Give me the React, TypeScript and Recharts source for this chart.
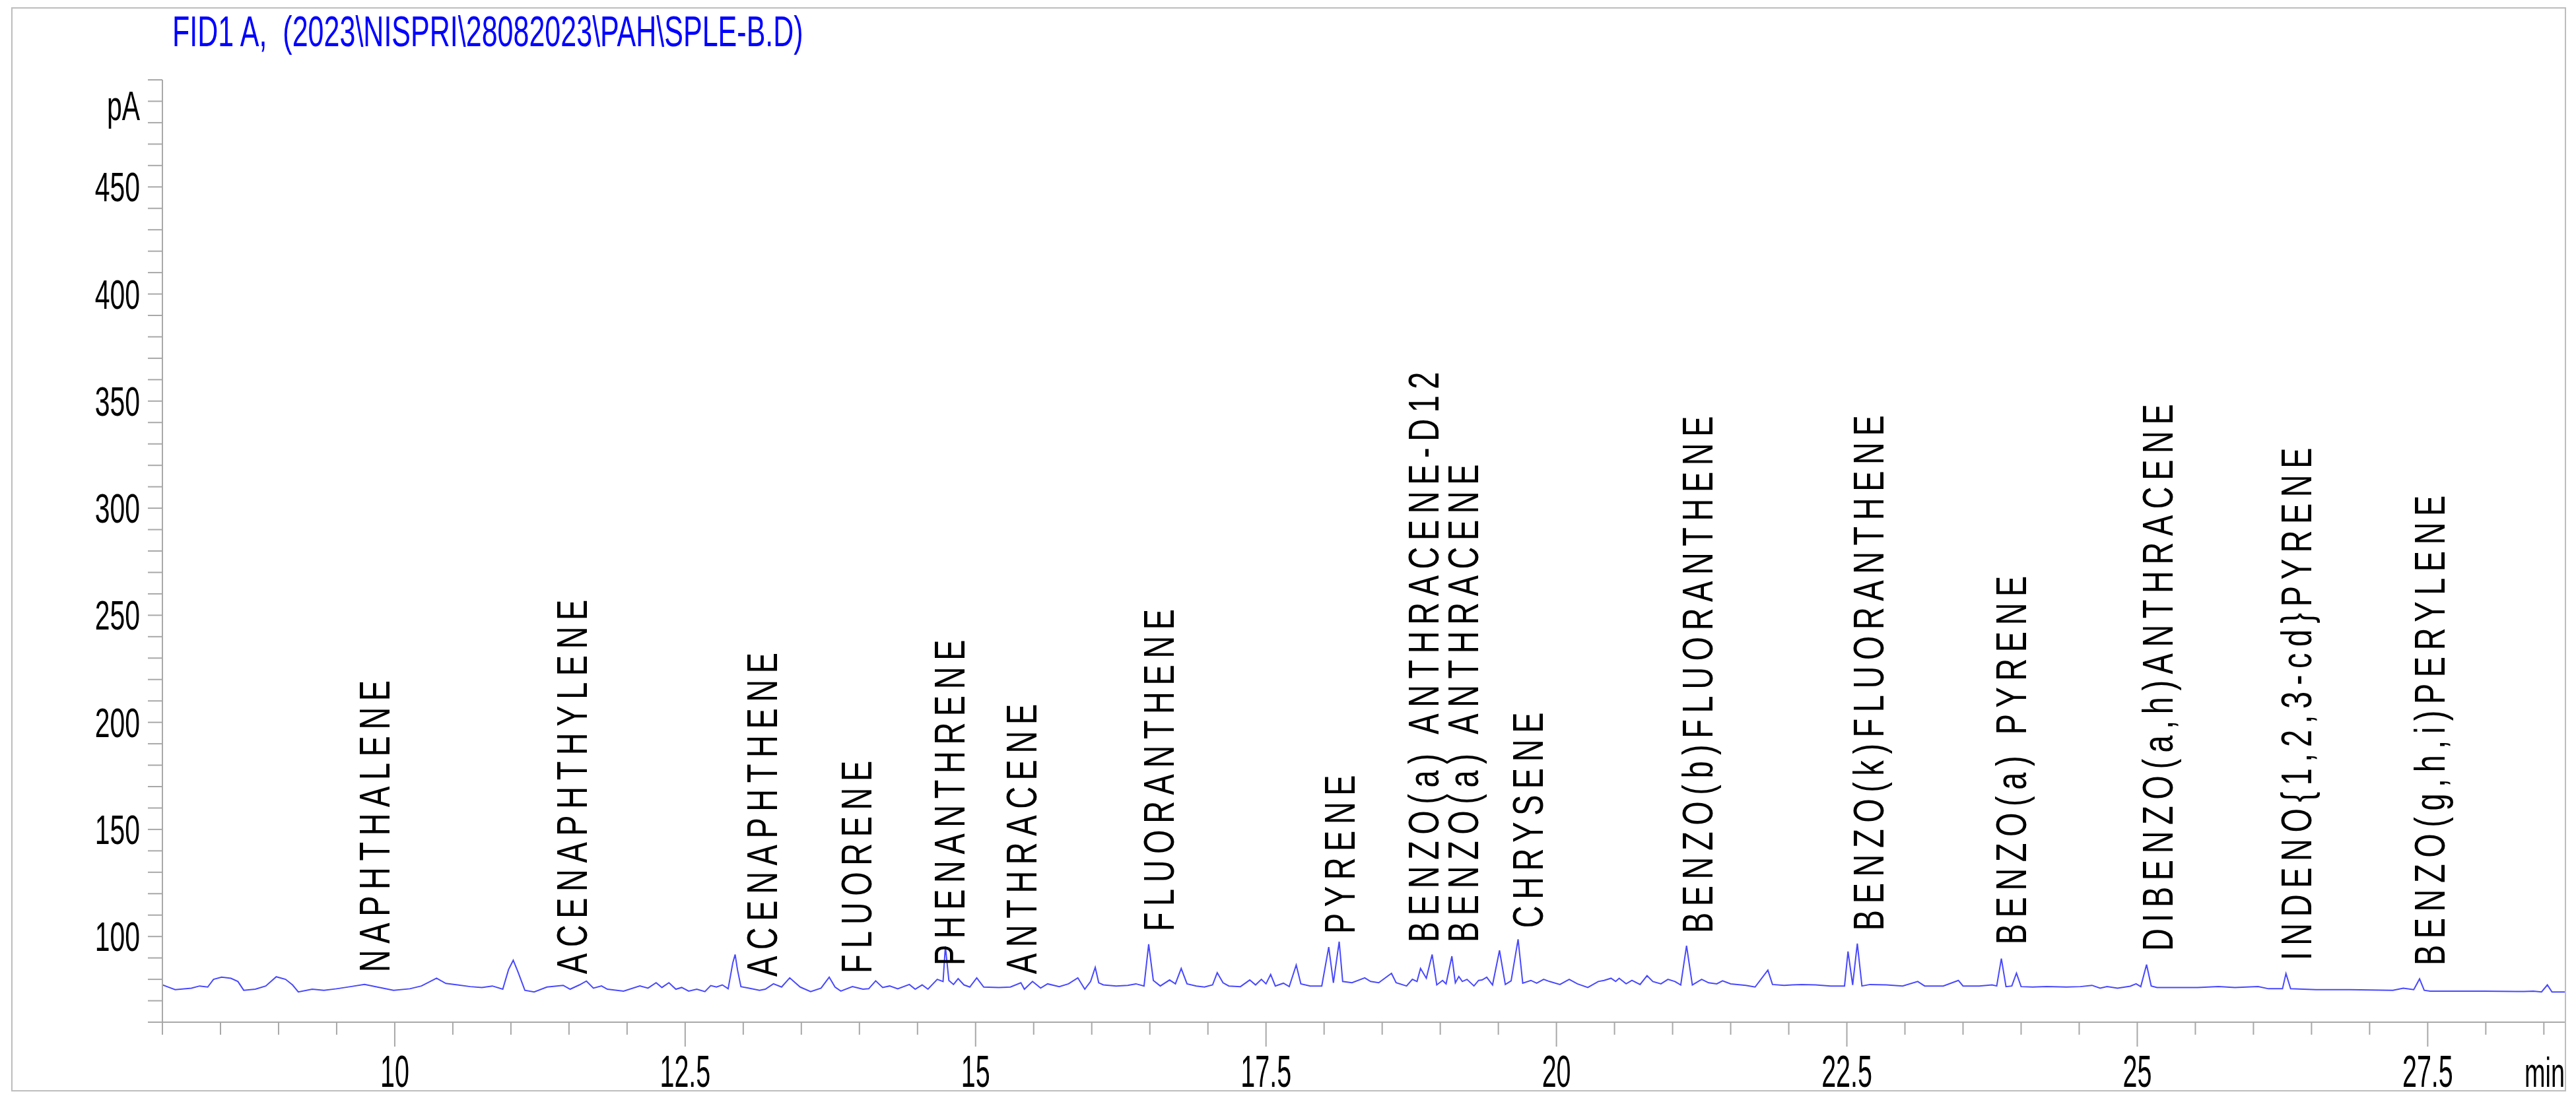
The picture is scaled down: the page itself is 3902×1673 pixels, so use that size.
import { LineChart, Line, XAxis, YAxis, ReferenceDot } from "recharts";

const FONT = "'Liberation Sans', Arial, sans-serif";
const TITLE = "FID1 A,  (2023\\NISPRI\\28082023\\PAH\\SPLE-B.D)";

// trace as [min, pA]
const early: number[][] = [
  [8.0, 77.4], [8.11, 75.2], [8.25, 75.9], [8.32, 76.9], [8.39, 76.4], [8.44, 80.0], [8.51, 81.0],
  [8.59, 80.5], [8.65, 79.0], [8.7, 74.9], [8.8, 75.4], [8.89, 76.9], [8.98, 81.2], [9.06, 80.0],
  [9.12, 77.4], [9.17, 74.1], [9.29, 75.4], [9.39, 74.9], [9.5, 75.6], [9.62, 76.6], [9.74, 77.6],
  [9.85, 76.4], [9.99, 74.9], [10.13, 75.6], [10.23, 76.9], [10.36, 80.5], [10.44, 78.1], [10.54, 77.4],
  [10.65, 76.6], [10.75, 76.2], [10.84, 76.9], [10.93, 75.4], [10.98, 84.6], [11.02, 88.9], [11.06, 83.6],
  [11.12, 74.9], [11.2, 74.1], [11.31, 76.4], [11.45, 77.2],
];

const light: number[][] = [
  [11.51, 75.4], [11.59, 77.4], [11.65, 79.2], [11.71, 75.9], [11.78, 76.9], [11.83, 75.4], [11.97, 74.5],
  [12.11, 76.9], [12.18, 75.9], [12.25, 78.4], [12.3, 76.2], [12.36, 78.4], [12.42, 75.4], [12.47, 76.2],
  [12.53, 74.5], [12.6, 75.4], [12.67, 74.3], [12.72, 77.1], [12.77, 76.4], [12.82, 77.4], [12.87, 75.6],
  [12.91, 87.7], [12.93, 91.6], [12.95, 84.6], [12.98, 76.6], [13.05, 75.9], [13.14, 74.9], [13.19, 75.4],
  [13.26, 77.9], [13.33, 76.4], [13.4, 80.7], [13.49, 76.4], [13.58, 74.3], [13.67, 75.9], [13.74, 81.0],
  [13.79, 76.4], [13.84, 74.5], [13.94, 76.6], [14.03, 75.4], [14.08, 75.6], [14.14, 79.3], [14.2, 76.2],
  [14.26, 76.9], [14.33, 75.6], [14.43, 77.6], [14.48, 75.4], [14.54, 77.4], [14.59, 75.4], [14.67, 80.0],
  [14.72, 79.0], [14.74, 95.4], [14.77, 79.5], [14.81, 77.6], [14.85, 80.3], [14.9, 77.4], [14.95, 76.4],
];

const middle: number[][] = [
  [15.01, 80.7], [15.07, 76.4], [15.2, 76.2], [15.3, 76.4], [15.39, 78.4], [15.42, 75.4], [15.49, 79.0],
  [15.56, 75.9], [15.62, 77.9], [15.72, 76.6], [15.8, 77.9], [15.88, 80.7], [15.94, 75.4], [15.99, 79.0],
  [16.03, 85.6], [16.06, 78.4], [16.1, 77.4], [16.21, 76.9], [16.31, 77.2], [16.38, 77.9], [16.45, 76.9],
  [16.49, 96.4], [16.53, 79.5], [16.59, 76.9], [16.67, 79.7], [16.72, 77.9], [16.77, 85.1], [16.82, 77.9],
  [16.9, 76.9], [16.97, 76.4], [17.04, 77.4], [17.08, 83.1], [17.13, 78.4], [17.18, 76.9], [17.28, 76.6],
  [17.36, 79.7], [17.41, 77.4], [17.46, 80.0], [17.5, 77.9], [17.54, 82.3], [17.58, 76.9], [17.65, 78.2],
  [17.7, 76.6], [17.76, 86.7], [17.8, 77.9], [17.88, 76.9], [17.98, 76.9], [18.04, 95.1], [18.08, 78.4],
  [18.13, 97.6], [18.16, 79.0], [18.24, 78.4], [18.35, 80.7], [18.4, 79.0], [18.47, 78.4], [18.58, 82.8],
  [18.62, 78.4], [18.71, 76.9], [18.76, 80.0], [18.8, 79.0], [18.83, 85.1],
];

const heavy: number[][] = [
  [18.88, 80.5], [18.93, 91.6], [18.97, 77.4], [19.02, 79.5], [19.05, 77.9], [19.1, 90.8], [19.13, 78.4],
  [19.16, 81.3], [19.19, 79.0], [19.23, 80.0], [19.29, 76.9], [19.33, 79.5], [19.36, 79.7], [19.4, 81.0],
  [19.45, 77.4], [19.51, 93.5], [19.56, 77.6], [19.61, 79.3], [19.67, 98.7], [19.71, 78.2], [19.78, 79.5],
  [19.83, 78.2], [19.89, 80.0], [19.94, 79.0], [20.03, 77.6], [20.11, 80.0], [20.18, 77.9], [20.27, 76.2],
  [20.36, 79.0], [20.41, 79.5], [20.47, 80.5], [20.51, 79.0], [20.54, 80.5], [20.6, 77.9], [20.65, 79.5],
  [20.72, 77.6], [20.78, 81.7], [20.83, 79.0], [20.9, 77.9], [20.96, 80.0], [21.02, 79.0], [21.07, 77.4],
  [21.12, 95.7], [21.17, 77.4], [21.25, 80.0], [21.31, 78.4], [21.38, 77.9], [21.43, 79.3], [21.5, 77.9],
  [21.63, 77.2], [21.71, 76.4], [21.82, 84.3], [21.86, 77.6], [21.96, 77.2], [22.03, 77.4], [22.11, 77.6],
  [22.23, 77.4], [22.36, 76.9], [22.48, 76.9], [22.51, 93.0], [22.55, 77.4], [22.59, 96.7], [22.63, 76.9],
  [22.7, 77.6], [22.84, 77.4], [22.98, 76.9], [23.11, 79.0], [23.17, 76.9], [23.33, 76.9], [23.46, 79.5],
  [23.5, 76.9], [23.64, 76.9], [23.75, 77.4], [23.79, 76.9], [23.83, 89.7], [23.87, 76.6], [23.92, 76.9],
  [23.96, 82.9], [24.0, 76.6], [24.1, 76.4],
];

const late: number[][] = [
  [24.22, 76.6], [24.39, 76.4], [24.51, 76.6], [24.61, 77.2], [24.68, 75.9], [24.74, 76.6], [24.83, 75.9],
  [24.94, 76.8], [24.99, 77.9], [25.03, 76.6], [25.08, 86.9], [25.12, 76.9], [25.17, 76.2], [25.38, 76.2],
  [25.52, 76.2], [25.7, 76.6], [25.84, 76.2], [26.04, 76.6], [26.13, 75.6], [26.25, 75.6], [26.28, 82.7],
  [26.32, 75.6], [26.54, 75.2], [26.83, 75.2], [27.2, 74.9], [27.29, 75.9], [27.38, 75.2], [27.43, 80.2],
  [27.47, 74.9], [27.52, 74.5], [27.99, 74.5], [28.33, 74.3], [28.41, 74.5], [28.48, 74.1], [28.53, 77.4],
  [28.57, 74.1], [28.68, 74.1],
];

// peak annotations
const peakNames = [
  "NAPHTHALENE", "ACENAPHTHYLENE", "ACENAPHTHENE", "FLUORENE", "PHENANTHRENE", "ANTHRACENE",
  "FLUORANTHENE", "PYRENE", "BENZO(a) ANTHRACENE-D12", "BENZO(a) ANTHRACENE", "CHRYSENE",
  "BENZO(b)FLUORANTHENE", "BENZO(k)FLUORANTHENE", "BENZO(a) PYRENE", "DIBENZO(a,h)ANTHRACENE",
  "INDENO{1,2,3-cd}PYRENE", "BENZO(g,h,i)PERYLENE",
];
const peakTimes = [
  9.82, 11.52, 13.155, 13.97, 14.77, 15.39, 16.57, 18.127, 18.85, 19.19, 19.75, 21.21, 22.68, 23.91,
  25.17, 26.365, 27.51,
];
const labelBase = [
  84.6, 83.7, 82.5, 84.0, 87.7, 83.7, 103.7, 102.5, 98.5, 98.5, 105.2, 102.8, 104.0, 97.5, 94.5, 90.1, 87.7,
];

const xLabels = [10, 12.5, 15, 17.5, 20, 22.5, 25, 27.5];
const yLabels = [100, 150, 200, 250, 300, 350, 400, 450];
const xTicks = Array.from({ length: 42 }, (_, i) => 8 + i * 0.5).filter((v) => v <= 28.5);
const yTicks = Array.from({ length: 45 }, (_, i) => 60 + i * 10);

const trace = [...early, ...light, ...middle, ...heavy, ...late].map(([t, v]) => ({ t, v }));

const GRAY = "#a8a8a8";

function XTick(props: any) {
  const { x, y, payload } = props;
  const major = xLabels.includes(payload.value);
  return (
    <g>
      <line x1={x} x2={x} y1={y} y2={y + (major ? 37 : 19)} stroke={GRAY} strokeWidth={2} />
      {major && (
        <text
          transform={`translate(${x},${y + 98}) scale(0.58,1)`}
          textAnchor="middle"
          fontFamily={FONT}
          fontSize={68}
          fill="#000"
        >
          {payload.value}
        </text>
      )}
    </g>
  );
}

function YTick(props: any) {
  const { x, y, payload } = props;
  const labelled = yLabels.includes(payload.value);
  return (
    <g>
      <line x1={x - 22} x2={x} y1={y} y2={y} stroke={GRAY} strokeWidth={2} />
      {labelled && (
        <text
          transform={`translate(${x - 34},${y + 22}) scale(0.65,1)`}
          textAnchor="end"
          fontFamily={FONT}
          fontSize={63}
          fill="#000"
        >
          {payload.value}
        </text>
      )}
    </g>
  );
}

function PeakLabel({ cx, cy, text }: { cx: number; cy: number; text: string }) {
  return (
    <text
      transform={`translate(${cx + 23.5},${cy + 4}) rotate(-90) scale(0.716,1)`}
      fontFamily={FONT}
      fontSize={65.6}
      letterSpacing={13.3}
      fill="#000"
      xmlSpace="preserve"
      style={{ whiteSpace: "pre" }}
    >
      {text}
    </text>
  );
}

export default function App() {
  return (
    <div style={{ position: "absolute", left: 0, top: 0, width: 3902, height: 1673, background: "#fff" }}>
      <div
        style={{
          position: "absolute",
          left: 17,
          top: 11,
          width: 3870,
          height: 1643,
          border: "2px solid #bdbdbd",
          boxSizing: "border-box",
        }}
      />
      <div style={{ position: "absolute", left: 0, top: 0 }}>
        <LineChart width={3902} height={1673} data={trace} margin={{ top: 121, right: 17, left: 0, bottom: 0 }}>
          <XAxis
            type="number"
            dataKey="t"
            domain={[8, 28.68]}
            allowDataOverflow
            ticks={xTicks}
            interval={0}
            tickSize={0}
            tickMargin={0}
            tickLine={false}
            height={124}
            axisLine={{ stroke: GRAY, strokeWidth: 2 }}
            tick={(p: any) => <XTick {...p} />}
          />
          <YAxis
            type="number"
            domain={[60, 500]}
            allowDataOverflow
            ticks={yTicks}
            interval={0}
            width={246}
            tickSize={0}
            tickMargin={0}
            tickLine={false}
            axisLine={{ stroke: GRAY, strokeWidth: 2 }}
            tick={(p: any) => <YTick {...p} />}
          />
          <Line
            type="linear"
            dataKey="v"
            stroke="#4848ff"
            strokeWidth={2}
            dot={false}
            isAnimationActive={false}
          />
          {peakNames.map((name, i) => (
            <ReferenceDot
              key={name}
              x={peakTimes[i]}
              y={labelBase[i]}
              r={0}
              shape={(p: any) => <PeakLabel cx={p.cx} cy={p.cy} text={name} />}
            />
          ))}
        </LineChart>
      </div>
      <svg
        width={3902}
        height={1673}
        style={{ position: "absolute", left: 0, top: 0, pointerEvents: "none" }}
      >
        <text
          transform="translate(261,70) scale(0.662,1)"
          fontFamily={FONT}
          fontSize={65}
          fill="#0000ff"
          xmlSpace="preserve"
          style={{ whiteSpace: "pre" }}
        >
          {TITLE}
        </text>
        <text transform="translate(212,182) scale(0.65,1)" textAnchor="end" fontFamily={FONT} fontSize={63} fill="#000">
          pA
        </text>
        <text transform="translate(3824,1647) scale(0.6,1)" fontFamily={FONT} fontSize={63} fill="#000">
          min
        </text>
      </svg>
    </div>
  );
}
